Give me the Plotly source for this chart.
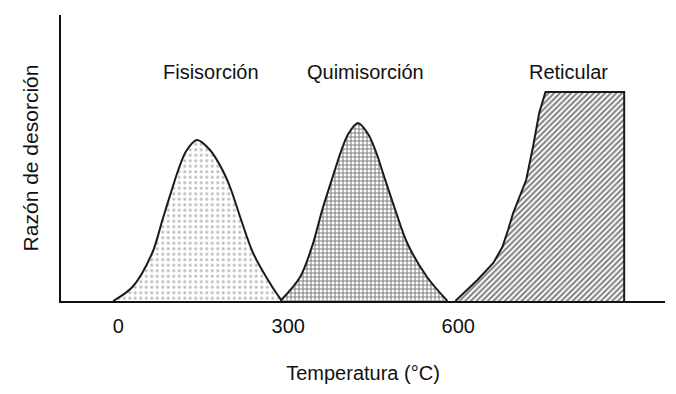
import plotly.graph_objects as go

# Fisisorción peak
fis_x = [-9, 25, 60, 78, 95, 106, 120, 139, 162, 184, 198, 217, 238, 272, 289]
fis_y = [0, 14, 48, 81, 112, 131, 150, 161, 151, 131, 113, 81, 48, 14, 0]

# Quimisorción peak
qui_x = [286, 321, 344, 360, 379, 394, 406, 423, 441, 455, 469, 489, 510, 545, 581]
qui_y = [0, 24, 58, 91, 125, 151, 167, 178, 167, 149, 125, 91, 58, 24, 0]

# Reticular
ret_x = [595, 634, 662, 678, 688, 697, 720, 732, 743, 754, 893, 893]
ret_y = [0, 21, 38, 54, 71, 88, 121, 154, 188, 209, 209, 0]

labels = ["Fisisorción", "Quimisorción", "Reticular"]
label_x = [164, 436, 794]
label_y = [229, 229, 229]

tick_vals = [0, 300, 600]
tick_text = ["0", "300", "600"]

FONT = "Liberation Sans, Arial, sans-serif"

fig = go.Figure()

fig.add_trace(go.Scatter(
    x=fis_x, y=fis_y, mode="lines", fill="toself",
    line=dict(color="#1a1a1a", width=2, shape="spline", smoothing=0.9),
    fillcolor="white",
    fillpattern=dict(shape=".", fgcolor="#7a7a7a", bgcolor="white", size=5.5, solidity=0.25),
    hoverinfo="skip", showlegend=False))

fig.add_trace(go.Scatter(
    x=qui_x, y=qui_y, mode="lines", fill="toself",
    line=dict(color="#1a1a1a", width=2, shape="spline", smoothing=0.9),
    fillcolor="white",
    fillpattern=dict(shape="+", fgcolor="#000000", bgcolor="white", size=4, solidity=0.45),
    hoverinfo="skip", showlegend=False))

fig.add_trace(go.Scatter(
    x=ret_x, y=ret_y, mode="lines", fill="toself",
    line=dict(color="#1a1a1a", width=2),
    fillcolor="white",
    fillpattern=dict(shape="/", fgcolor="#000000", bgcolor="white", size=4, solidity=0.5),
    hoverinfo="skip", showlegend=False))

for t, x, y in zip(labels, label_x, label_y):
    fig.add_annotation(x=x, y=y, text=t, showarrow=False,
                       font=dict(family=FONT, size=20, color="#111"))

fig.update_xaxes(range=[-101, 965], showline=True, linecolor="#111", linewidth=1.5,
                 showgrid=False, zeroline=False, tickvals=tick_vals, ticktext=tick_text,
                 ticks="", ticklabelstandoff=6, automargin=False,
                 tickfont=dict(family=FONT, size=20, color="#111"),
                 title=dict(text="Temperatura (°C)", font=dict(family=FONT, size=20, color="#111"),
                            standoff=30))
fig.update_yaxes(range=[0, 286], showline=True, linecolor="#111", linewidth=1.5,
                 showgrid=False, zeroline=False, showticklabels=False, ticks="",
                 automargin=False,
                 title=dict(text="Razón de desorción", font=dict(family=FONT, size=21, color="#111"),
                            standoff=15))

# page body has an 8px default margin; figure sized to fit inside the window
fig.update_layout(width=660, height=378, margin=dict(l=53, r=3, t=7, b=85),
                  plot_bgcolor="white", paper_bgcolor="white")

fig.write_html("out.html")
